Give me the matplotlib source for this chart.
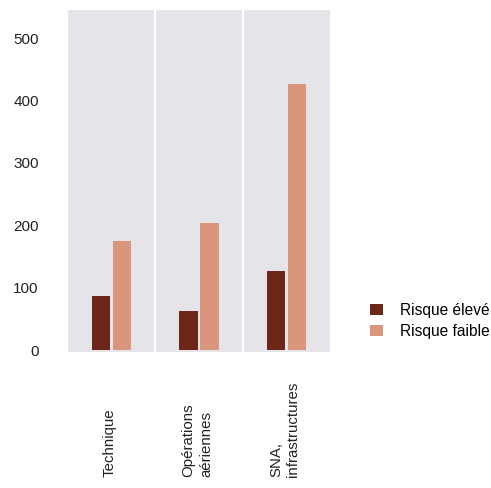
import matplotlib
matplotlib.use("Agg")
import matplotlib.pyplot as plt
import numpy as np

plt.rcParams['font.family'] = ['Liberation Sans', 'DejaVu Sans']

categories = ["Technique", "Opérations\naériennes", "SNA,\ninfrastructures"]
series_names = ["Risque élevé", "Risque faible"]
risque_eleve = [87, 62, 127]
risque_faible = [175, 204, 427]
y_ticks = [0, 100, 200, 300, 400, 500]

dark = "#6c2719"
light = "#d9967c"
panel_bg = "#e4e4e9"

W, H = 491, 488
fig = plt.figure(figsize=(W / 100, H / 100), dpi=100)
ax = fig.add_axes([68 / W, 1 - 352 / H, (330 - 68) / W, (352 - 10) / H])
ax.set_facecolor(panel_bg)

x = np.arange(len(categories))
bw = 0.21
ax.bar(x - 0.12, risque_eleve, width=bw, color=dark, label=series_names[0], zorder=3)
ax.bar(x + 0.12, risque_faible, width=bw, color=light, label=series_names[1], zorder=3)

for b in [0.5, 1.5]:
    ax.axvline(b, color="white", lw=1.6, zorder=2)

ax.set_xlim(-0.5, 2.5)
ax.set_ylim(-3, 545)
ax.set_yticks(y_ticks)
ax.set_yticklabels([str(v) for v in y_ticks], fontsize=11, color="#222222")
ax.tick_params(axis="y", length=0, pad=21)
ax.set_xticks([])
for s in ax.spines.values():
    s.set_visible(False)

# rotated category labels, anchored at the bottom of the figure
trans = matplotlib.transforms.blended_transform_factory(ax.transData, fig.transFigure)
for xi, lab in zip(x, categories):
    ax.text(xi - 0.02, 11 / H, lab, rotation=90, ha="center", va="bottom",
            multialignment="left", fontsize=10.8, color="#222222",
            transform=trans, clip_on=False, linespacing=1.3)

fig.legend(loc="upper left", bbox_to_anchor=(370 / W, 1 - 303 / H),
           frameon=False, fontsize=11.2, handlelength=0.85, handleheight=0.75,
           handletextpad=1.1, labelspacing=0.4, borderpad=0, borderaxespad=0)

fig.savefig("out.png", dpi=100)
